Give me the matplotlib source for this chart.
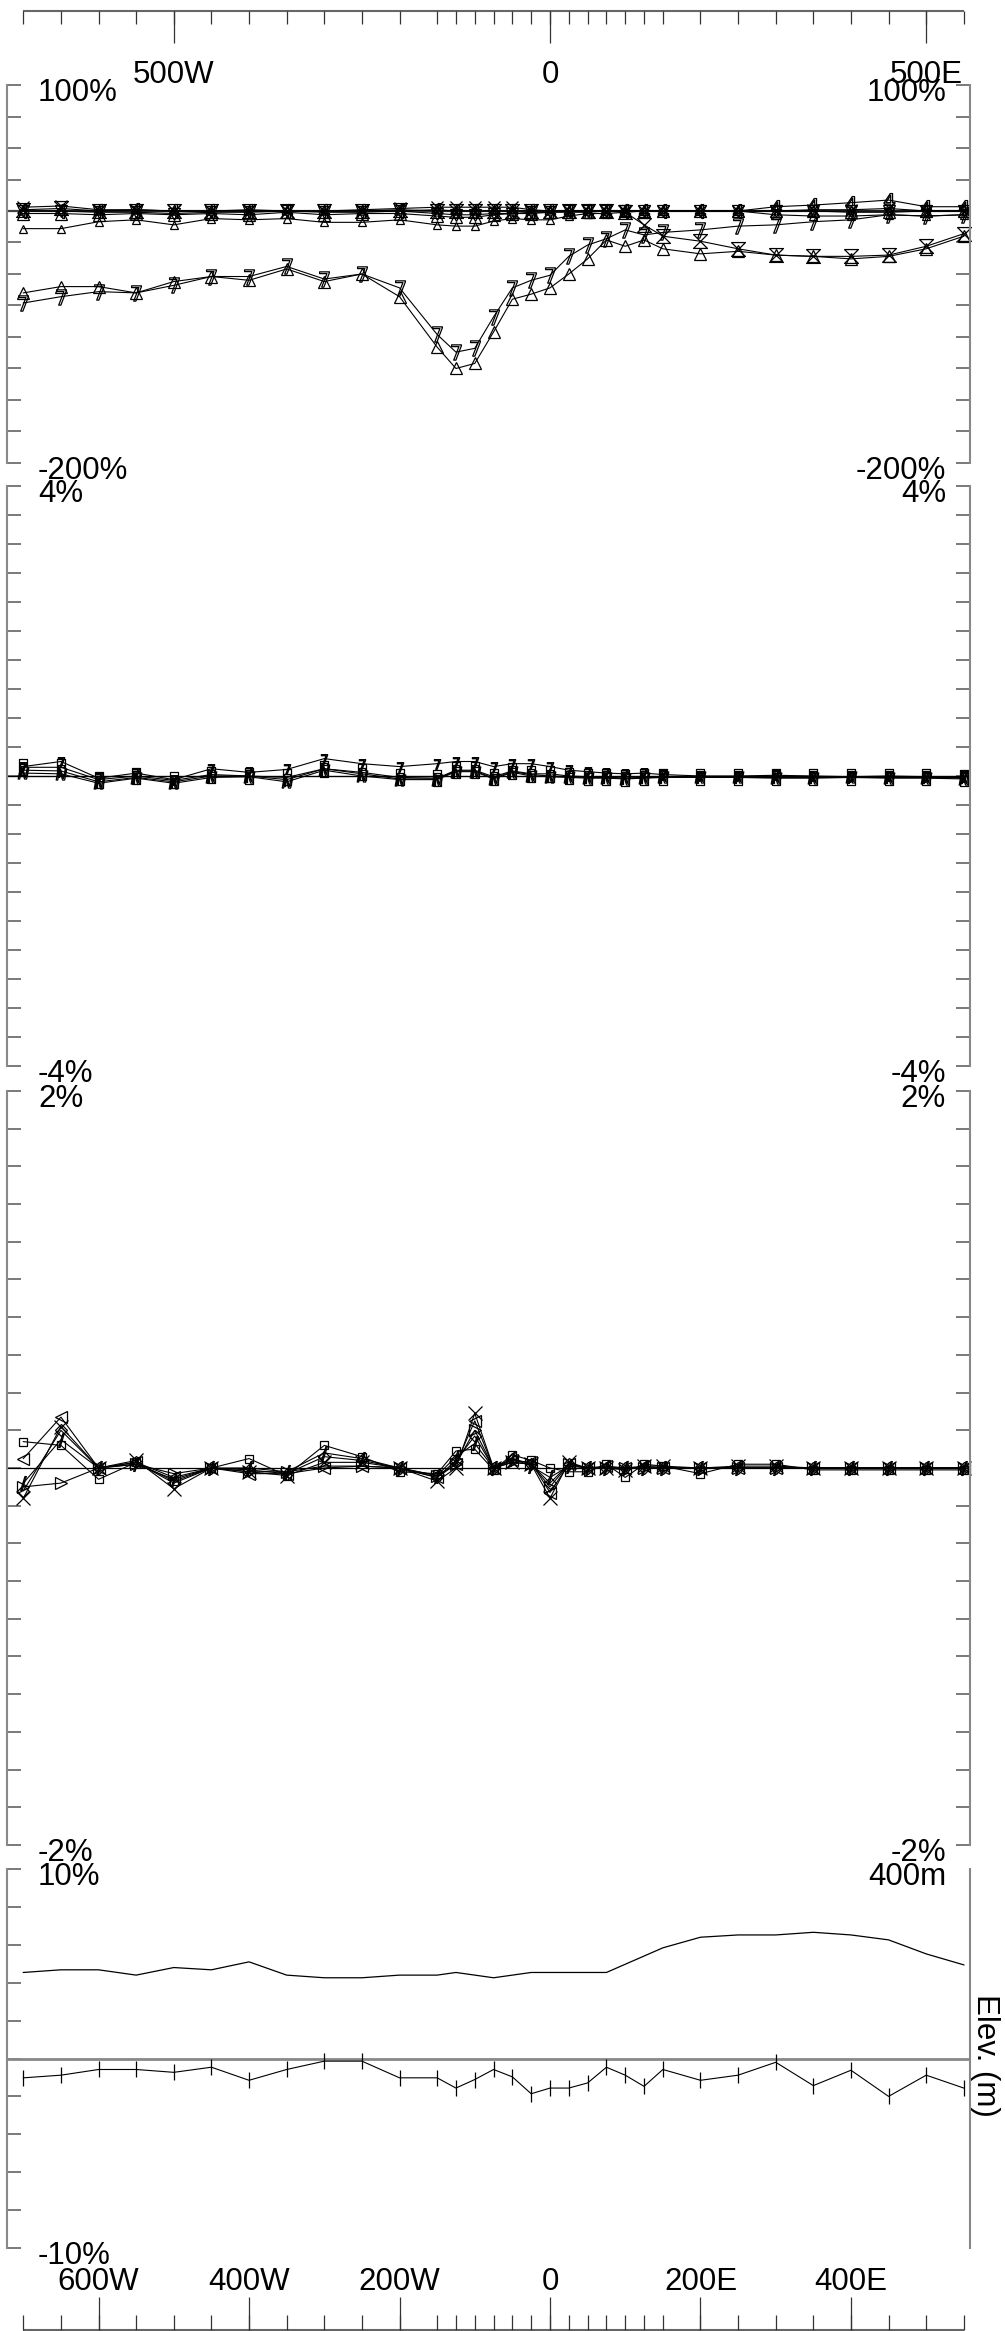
import numpy as np
import matplotlib.pyplot as plt

# station positions along the line (m, negative = west)
stations = [-700, -650, -600, -550, -500, -450, -400, -350, -300, -250, -200,
            -150, -125, -100, -75, -50, -25, 0, 25, 50, 75, 100, 125, 150,
            200, 250, 300, 350, 400, 450, 500, 550]

# ---- panel 1 : +100% .. -200% ----
ip_tri = [-65, -60, -60, -65, -56, -52, -55, -46, -56, -50, -68, -108, -125, -121, -96,
          -70, -66, -61, -50, -38, -23, -28, -23, -30, -34, -32, -35, -36, -38, -36, -30, -20]
ip_seven = [-73, -68, -64, -65, -59, -52, -52, -44, -54, -50, -61, -98, -112, -109, -84,
            -61, -55, -51, -36, -27, -22, -15, -19, -17, -15, -12, -11, -8.5, -7, -3, -4, -3]
ip_hour = [1, 2, 0, 0, 0, 0, 0, 0, 0, 0, 1, 0, 0, 0, 0, 0, 0, 0, 0, 0, 0, -1, -11, -20,
           -24, -30, -35, -36, -36, -35, -28, -18]
ip_small = [-14, -14, -8.5, -7, -11, -6, -7, -6, -9, -9, -7, -11, -12, -12, -8, -6, -7, -7,
            -4, -2, -2, -1, 0, 0, 0, 0, -3, -4, -4, -3, -4, -3]
ip_four = [0, 0, 0, 1, 0, 0, 0, 0, 0, 0, 0, 1, 0, 0, 0, 0, 0, 0, 0, 0, 0, 0, 0, 0, 0, 0,
           3.4, 4.7, 6.6, 8.7, 3.4, 3.4]
ip_x = [3, 4, 1, 1, 0, 0, 1, 0, 0, 1, 2, 3, 3, 3, 3, 3, 1, 0, 0, 0, 0, 0, 0, 0, 0, 0,
        0, 1, 1, 2, 0, 0]
ip_v = [0, 0, -1, -1, -2, -1, -1, 0, -1, -1, 0, -2, -3, -3, -2, -2, -1, -1, 0, 0, 0, 0,
        0, 0, 0, 0, 0, 0, 0, 0, 0, 0]
ip_up = [-2, -2, -3, -2, -3, -2, -3, -1, -3, -2, -2, -4, -5, -5, -3, -2, -2, -1, -1, -1,
         0, 0, 0, 0, 0, 0, 0, 0, -1, -1, 0, 0]

# ---- panel 2 : +4% .. -4% ----
q_seven = [0.13, 0.2, -0.03, 0.04, -0.05, 0.1, 0.05, 0.09, 0.24, 0.17, 0.13, 0.17, 0.2, 0.2,
           0.13, 0.17, 0.17, 0.13, 0.08, 0.06, 0.04, 0.03, 0.04, 0.02, 0, 0, 0.01, 0, -0.01,
           0, -0.01, -0.01]
q_sq = [0.12, 0.12, -0.05, 0.0, -0.06, 0.02, 0.0, -0.02, 0.1, 0.05, -0.02, -0.03, 0.08, 0.08,
        -0.01, 0.07, 0.03, 0.03, 0.0, -0.01, -0.02, -0.03, -0.02, -0.01, -0.02, -0.02, -0.02,
        -0.02, -0.02, -0.02, -0.02, -0.03]
q_n = [0.04, 0.03, -0.1, -0.03, -0.1, -0.02, -0.01, -0.08, 0.08, 0.0, -0.05, -0.05, 0.06,
       0.06, -0.04, 0.05, 0.0, -0.01, -0.02, -0.03, -0.03, -0.04, -0.03, -0.02, -0.02, -0.02,
       -0.03, -0.03, -0.02, -0.03, -0.03, -0.04]
q_bar = [0.08, 0.07, -0.08, -0.02, -0.08, 0.0, 0.0, -0.05, 0.1, 0.03, -0.04, -0.04, 0.07,
         0.07, -0.03, 0.06, 0.02, 0.0, -0.01, -0.02, -0.02, -0.03, -0.02, -0.02, -0.01, -0.01,
         -0.02, -0.01, -0.01, -0.02, -0.02, -0.02]

# ---- panel 3 : +2% .. -2% ----
r_sq = [0.14, 0.12, -0.06, 0.03, -0.07, 0.0, 0.05, -0.04, 0.12, 0.06, -0.02, -0.03, 0.09,
        0.10, -0.01, 0.07, 0.04, 0.0, -0.02, -0.02, 0.02, -0.05, 0.02, 0.01, -0.03, 0.02,
        0.02, -0.01, -0.01, -0.01, -0.01, -0.01]
r_x = [-0.16, 0.22, 0.0, 0.04, -0.11, 0.0, -0.02, -0.04, 0.03, 0.03, 0.0, -0.07, 0.0, 0.29,
       0.0, 0.03, 0.02, -0.16, 0.03, 0.0, 0.0, -0.01, 0.01, 0.01, 0.0, 0.01, 0.01, 0, 0, 0, 0, 0]
r_lt = [0.05, 0.27, 0.0, 0.03, -0.05, 0.0, -0.03, -0.03, 0.0, 0.01, 0.0, -0.05, 0.02, 0.25,
        0.0, 0.04, 0.03, -0.13, 0.02, 0.0, 0.01, 0.0, 0.01, 0, 0, 0, 0, 0, 0, 0, 0, 0]
r_gt = [-0.1, -0.08, 0.0, 0.02, -0.03, 0.0, -0.02, -0.02, 0.01, 0.01, 0.0, -0.04, 0.02, 0.2,
        0.0, 0.03, 0.02, -0.1, 0.02, 0.0, 0.0, 0.0, 0, 0, 0, 0, 0, 0, 0, 0, 0, 0]
r_dia = [-0.12, 0.2, 0.0, 0.03, -0.08, 0.0, -0.01, -0.03, 0.06, 0.04, 0.0, -0.05, 0.04, 0.17,
         0.0, 0.05, 0.02, -0.08, 0.02, 0.0, 0.0, 0.0, 0, 0, 0, 0, 0, 0, 0, 0, 0, 0]
r_sl = [-0.08, 0.15, 0.0, 0.02, -0.06, 0.0, 0.0, -0.02, 0.08, 0.05, 0.0, -0.04, 0.06, 0.13,
        0.0, 0.05, 0.01, -0.05, 0.01, 0.0, 0.0, 0.0, 0, 0, 0, 0, 0, 0, 0, 0, 0, 0]

# ---- panel 4 : +10% .. -10% with elevation ----
tilt = [-1.02, -0.88, -0.58, -0.58, -0.73, -0.46, -1.15, -0.58, -0.14, -0.14, -1.02, -1.02,
        -1.56, -1.11, -0.58, -0.97, -1.86, -1.56, -1.56, -1.29, -0.46, -0.88, -1.47, -0.58,
        -1.15, -0.88, -0.2, -1.43, -0.62, -2.0, -0.88, -1.56]
elev_x = [-700, -650, -600, -550, -500, -450, -400, -350, -300, -250, -200, -150, -125, -75,
          -25, 75, 150, 200, 250, 300, 350, 400, 450, 500, 550]
elev = [372.7, 373.4, 373.4, 372.0, 374.0, 373.4, 375.5, 372.0, 371.3, 371.3, 372.0, 372.0,
        372.7, 371.3, 372.7, 372.7, 379.2, 382.0, 382.6, 382.6, 383.3, 382.6, 381.3, 377.6, 374.7]

top_labels = {-500: '500W', 0: '0', 500: '500E'}
bot_labels = {-600: '600W', -400: '400W', -200: '200W', 0: '0', 200: '200E', 400: '400E'}

plt.rcParams['font.family'] = ['Liberation Sans', 'DejaVu Sans']
plt.rcParams['mathtext.fontset'] = 'dejavusans'

W, H, DPI = 1005, 2331, 100
fig = plt.figure(figsize=(W / DPI, H / DPI), dpi=DPI)

X0, X1 = 7, 970           # frame edges in pixels
ZERO_PX, PX_PER_M = 550, 0.7524
XLIM = ((X0 - ZERO_PX) / PX_PER_M, (X1 - ZERO_PX) / PX_PER_M)
FS = 22.5


def px_rect(x0, y0, x1, y1):
    return [x0 / W, 1 - y1 / H, (x1 - x0) / W, (y1 - y0) / H]


def px_text(x, y, s, **kw):
    fig.text(x / W, 1 - y / H, s, fontsize=FS, va='baseline', **kw)


def panel(y0, y1, lo, hi, n):
    ax = fig.add_axes(px_rect(X0, y0, X1, y1))
    ax.set_xlim(*XLIM)
    ax.set_ylim(lo, hi)
    ax.set_yticks(np.linspace(lo, hi, n + 1))
    ax.set_xticks([])
    ax.tick_params(axis='y', direction='in', length=10, width=1.1, color='#555',
                   left=True, right=True, labelleft=False, labelright=False)
    for s in ('top', 'bottom'):
        ax.spines[s].set_visible(False)
    for s in ('left', 'right'):
        ax.spines[s].set_color('#888')
        ax.spines[s].set_linewidth(1.5)
    ax.patch.set_alpha(0)
    return ax


def corner_labels(y_top, y_bot, top, bot, top_r=None, bot_r=None):
    px_text(38, y_top + 16, top, ha='left')
    px_text(946, y_top + 16, top if top_r is None else top_r, ha='right')
    if bot is not None:
        px_text(38, y_bot + 16, bot, ha='left')
        if bot_r != '':
            px_text(946, y_bot + 16, bot if bot_r is None else bot_r, ha='right')


hourglass = [(-1, 1), (1, 1), (-1, -1), (1, -1), (-1, 1)]
tall_box = [(-0.5, -1), (0.5, -1), (0.5, 1), (-0.5, 1), (-0.5, -1)]
line_kw = dict(color='black', lw=0.8, mfc='none', mec='black', mew=0.9, clip_on=False)

# panel 1
ax1 = panel(85, 463, -200, 100, 12)
ax1.axhline(0, color='#444', lw=1.6)
ax1.plot(stations, ip_v, marker='v', ms=9, **line_kw)
ax1.plot(stations, ip_up, marker='^', ms=9, **line_kw)
ax1.plot(stations, ip_x, marker='x', ms=9, **line_kw)
ax1.plot(stations, ip_four, marker='$4$', ms=10, **line_kw)
ax1.plot(stations, ip_small, marker='^', ms=6, **line_kw)
ax1.plot(stations, ip_hour, marker=hourglass, ms=10, **line_kw)
ax1.plot(stations, ip_tri, marker='^', ms=9, **line_kw)
ax1.plot(stations, ip_seven, marker='$7$', ms=11, **line_kw)
corner_labels(85, 463, '100%', '-200%')

# panel 2
ax2 = panel(486, 1066, -4, 4, 20)
ax2.axhline(0, color='black', lw=1.0)
ax2.plot(stations, q_bar, marker='$\\Gamma$', ms=8, **line_kw)
ax2.plot(stations, q_n, marker='$N$', ms=8, **line_kw)
ax2.plot(stations, q_sq, marker=tall_box, ms=11, **line_kw)
ax2.plot(stations, q_seven, marker='$7$', ms=7, **line_kw)
corner_labels(486, 1066, '4%', '-4%')

# panel 3
ax3 = panel(1091, 1845, -2, 2, 20)
ax3.axhline(0, color='black', lw=0.9)
ax3.plot(stations, r_sl, marker='$/$', ms=10, **line_kw)
ax3.plot(stations, r_dia, marker='D', ms=6, **line_kw)
ax3.plot(stations, r_gt, marker='>', ms=8, **line_kw)
ax3.plot(stations, r_lt, marker='<', ms=8, **line_kw)
ax3.plot(stations, r_x, marker='x', ms=10, **line_kw)
ax3.plot(stations, r_sq, marker='s', ms=6, **line_kw)
corner_labels(1091, 1845, '2%', '-2%')

# panel 4: tilt (%) and elevation (m)
ax4 = panel(1869, 2248, -10, 10, 10)
ax4.axhline(0, color='#888', lw=2.0)
ax4.plot(stations, tilt, marker='|', ms=12, **line_kw)
ax4e = ax4.twinx()
ax4e.set_ylim(300, 400)
ax4e.set_xlim(*XLIM)
ax4e.axis('off')
ax4e.plot(elev_x, elev, color='black', lw=0.9)
corner_labels(1869, 2248, '10%', '-10%', top_r='400m', bot_r='')
fig.text(985 / W, 1 - 2055 / H, 'Elev. (m)', fontsize=FS, rotation=-90,
         ha='center', va='center')

# distance scale along the top
axt = fig.add_axes(px_rect(X0, 0, X1, 85))
axt.set_xlim(*XLIM)
axt.set_ylim(85, 0)
axt.axis('off')
axt.hlines(11, stations[0], stations[-1], color='#666', lw=1.5)
axt.vlines(stations, 11, 24, color='#333', lw=0.9)
axt.vlines(list(top_labels), 11, 43, color='#333', lw=0.9)
for xm, lab in top_labels.items():
    axt.text(xm, 83, lab, fontsize=FS, ha='center', va='baseline')

# distance scale along the bottom
axb = fig.add_axes(px_rect(X0, 2248, X1, 2331))
axb.set_xlim(*XLIM)
axb.set_ylim(2331, 2248)
axb.axis('off')
axb.hlines(2330, stations[0], stations[-1], color='#666', lw=1.5)
axb.vlines(stations, 2315, 2330, color='#333', lw=0.9)
axb.vlines(list(bot_labels), 2297, 2330, color='#333', lw=0.9)
for xm, lab in bot_labels.items():
    axb.text(xm, 2290, lab, fontsize=FS, ha='center', va='baseline')

fig.savefig('out.png', dpi=DPI)
